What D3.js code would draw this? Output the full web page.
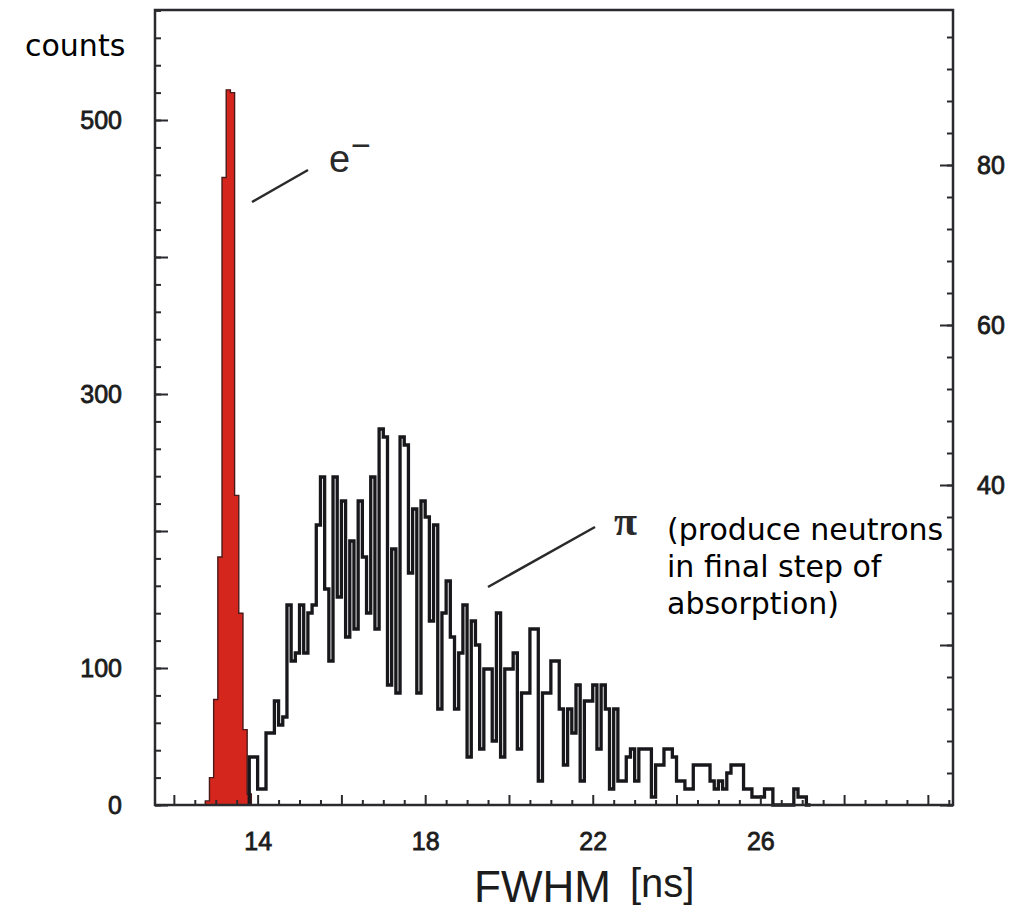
<!DOCTYPE html>
<html>
<head>
<meta charset="utf-8">
<script src="https://cdn.jsdelivr.net/npm/d3@7"></script>
<style>
  html, body { margin: 0; padding: 0; background: #fff; }
  svg { display: block; }
</style>
</head>
<body>
<svg id="chart" width="1010" height="918"></svg>
<script>
// electron peak (left axis, counts), 0.1 ns bins
const electronStart = 12.75;
const electronCounts = [3, 20, 77, 181, 458, 522, 520, 226, 140, 55, 8];

// pion distribution (right axis, counts), 0.1 ns bins
const pionStart = 13.8;
const pionCounts = [
  6, 6, 2, 2, 9, 9, 13, 10, 11, 25,
  18, 19, 25, 19, 24, 25, 35, 41, 27, 18,
  41, 26, 38, 21, 33, 22, 38, 31, 24, 41,
  22, 47, 46, 15, 32, 14, 46, 45, 29, 37,
  14, 38, 36, 23, 35, 12, 24, 28, 21, 12,
  19, 25, 6, 23, 20, 7, 17, 17, 8, 24,
  6, 17, 17, 19, 7, 14, 14, 22, 22, 3,
  14, 14, 18, 18, 12, 5, 12, 9, 15, 3,
  13, 13, 15, 7, 15, 12, 2, 12, 3, 3,
  6, 7, 3, 7, 7, 7, 1, 5, 5, 7,
  7, 6, 3, 3, 2, 2, 5, 5, 5, 5,
  3, 2, 3, 2, 4, 5, 5, 5, 2, 2,
  1, 1, 1, 2, 2, 0, 0, 0, 0, 0,
  2, 1, 1, 0
];
const binWidth = 0.1;

const xTickLabels = [14, 18, 22, 26];
const leftTickLabels = [0, 100, 300, 500];
const rightTickLabels = [40, 60, 80];

const svg = d3.select('#chart');
const frame = { left: 155, right: 953, top: 10, bottom: 805 };

const x = d3.scaleLinear().domain([11.55, 30.6]).range([frame.left, frame.right]);
const yL = d3.scaleLinear().domain([0, 580.3]).range([frame.bottom, frame.top]);
const yR = d3.scaleLinear().domain([0, 99.375]).range([frame.bottom, frame.top]);

// turn bin counts into a closed step outline
const stepPoints = (start, counts) => {
  const pts = [[start, 0]];
  counts.forEach((c, i) => {
    const x0 = start + i * binWidth;
    pts.push([x0, c], [x0 + binWidth, c]);
  });
  pts.push([start + counts.length * binWidth, 0]);
  return pts;
};

const tickFont = '"Liberation Sans", Arial, sans-serif';

// electron histogram, filled red
svg.append('path')
  .attr('d', d3.line().x(d => x(d[0])).y(d => yL(d[1]))(stepPoints(electronStart, electronCounts)))
  .attr('fill', '#d5261d')
  .attr('stroke', '#4a1a1a')
  .attr('stroke-width', 1.4);

// pion histogram, open outline
svg.append('path')
  .attr('d', d3.line().x(d => x(d[0])).y(d => yR(d[1]))(stepPoints(pionStart, pionCounts)))
  .attr('fill', 'none')
  .attr('stroke', '#18181c')
  .attr('stroke-width', 3.3)
  .attr('stroke-linejoin', 'miter');

// left axis
const leftMinor = svg.append('g').attr('transform', `translate(${frame.left},0)`)
  .call(d3.axisLeft(yL).tickValues(d3.range(0, 581, 20)).tickSize(-6).tickFormat(''));
const leftMajor = svg.append('g').attr('transform', `translate(${frame.left},0)`)
  .call(d3.axisLeft(yL).tickValues(d3.range(0, 501, 100)).tickSize(-13).tickPadding(33)
    .tickFormat(d => leftTickLabels.includes(d) ? d : ''));

// right axis
const rightMinor = svg.append('g').attr('transform', `translate(${frame.right},0)`)
  .call(d3.axisRight(yR).tickValues(d3.range(0, 99, 4)).tickSize(-6).tickFormat(''));
const rightMajor = svg.append('g').attr('transform', `translate(${frame.right},0)`)
  .call(d3.axisRight(yR).tickValues(d3.range(0, 99, 20)).tickSize(-13).tickPadding(24)
    .tickFormat(d => rightTickLabels.includes(d) ? d : ''));

// bottom axis
const bottomMinor = svg.append('g').attr('transform', `translate(0,${frame.bottom})`)
  .call(d3.axisBottom(x).tickValues(d3.range(12.5, 30.6, 0.5).filter(v => v % 2 !== 0)).tickSize(-5).tickFormat(''));
const bottomMajor = svg.append('g').attr('transform', `translate(0,${frame.bottom})`)
  .call(d3.axisBottom(x).tickValues(d3.range(12, 31, 2)).tickSize(-10).tickPadding(27)
    .tickFormat(d => xTickLabels.includes(d) ? d : ''));

[leftMinor, leftMajor, rightMinor, rightMajor, bottomMinor, bottomMajor].forEach(g => {
  g.select('.domain').remove();
  g.selectAll('.tick line').attr('stroke', '#2a2a2e').attr('stroke-width', 2);
  g.selectAll('.tick text')
    .attr('font-family', tickFont)
    .attr('font-size', 25)
    .attr('fill', '#1c1c1c')
    .attr('stroke', '#1c1c1c')
    .attr('stroke-width', 0.8);
});

// frame
svg.append('rect')
  .attr('x', frame.left).attr('y', frame.top)
  .attr('width', frame.right - frame.left).attr('height', frame.bottom - frame.top)
  .attr('fill', 'none')
  .attr('stroke', '#2a2a2e')
  .attr('stroke-width', 2.5);

// particle labels with leader lines
svg.append('line')
  .attr('x1', 252).attr('y1', 202).attr('x2', 308).attr('y2', 170)
  .attr('stroke', '#2a2a2a').attr('stroke-width', 2.5);
svg.append('text')
  .attr('x', 329).attr('y', 172)
  .attr('font-family', tickFont).attr('font-size', 38).attr('fill', '#2a2a2a')
  .text('e');
svg.append('text')
  .attr('x', 351).attr('y', 157)
  .attr('font-family', tickFont).attr('font-size', 34).attr('fill', '#2a2a2a')
  .text('−');

svg.append('line')
  .attr('x1', 488).attr('y1', 587).attr('x2', 595).attr('y2', 527)
  .attr('stroke', '#2a2a2a').attr('stroke-width', 2.5);
svg.append('text')
  .attr('x', 614).attr('y', 535)
  .attr('font-family', '"Liberation Serif", "DejaVu Serif", serif')
  .attr('font-size', 42).attr('font-weight', 'bold').attr('fill', '#2a2a2a')
  .text('π');

// annotation
const note = svg.append('text')
  .attr('font-family', '"DejaVu Sans", sans-serif')
  .attr('font-size', 30)
  .attr('fill', '#000');
['(produce neutrons', 'in final step of', 'absorption)'].forEach((t, i) => {
  note.append('tspan').attr('x', 667).attr('y', 540 + i * 37).text(t);
});

// axis titles
svg.append('text')
  .attr('x', 25).attr('y', 56)
  .attr('font-family', '"DejaVu Sans", sans-serif')
  .attr('font-size', 30)
  .attr('fill', '#000')
  .text('counts');

svg.append('text')
  .attr('x', 474).attr('y', 902)
  .attr('font-family', tickFont)
  .attr('font-size', 44)
  .attr('fill', '#1c1c1c')
  .text('FWHM');
svg.append('text')
  .attr('x', 630).attr('y', 897)
  .attr('font-family', tickFont)
  .attr('font-size', 40)
  .attr('fill', '#1c1c1c')
  .text('[ns]');
</script>
</body>
</html>
